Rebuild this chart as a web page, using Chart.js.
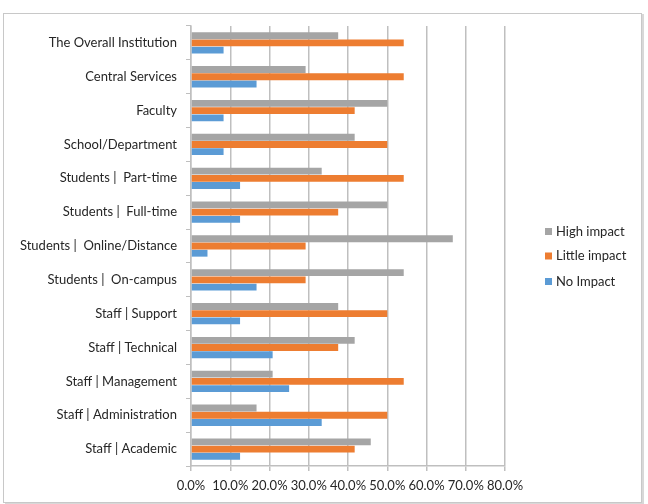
<!DOCTYPE html>
<html>
<head>
<meta charset="utf-8">
<script src="https://cdn.jsdelivr.net/npm/chart.js@4/dist/chart.umd.min.js"></script>
<style>
  html, body { margin: 0; padding: 0; background: #ffffff; }
  #wrap { position: relative; width: 648px; height: 504px; }
  #frame { position: absolute; left: 3px; top: 13px; width: 637px; height: 488px;
           border: 1px solid #c8c8c8; box-shadow: 2px 1px 0 #d8d8d8; }
  canvas { position: absolute; left: 0; top: 0; }
</style>
</head>
<body>
<div id="wrap">
  <div id="frame"></div>
  <canvas id="c" width="648" height="504"></canvas>
</div>
<script>
const categories = [
  "The Overall Institution",
  "Central Services",
  "Faculty",
  "School/Department",
  "Students |  Part-time",
  "Students |  Full-time",
  "Students |  Online/Distance",
  "Students |  On-campus",
  "Staff | Support",
  "Staff | Technical",
  "Staff | Management",
  "Staff | Administration",
  "Staff | Academic"
];
const highImpact   = [37.5, 29.2, 50.0, 41.7, 33.3, 50.0, 66.7, 54.2, 37.5, 41.7, 20.8, 16.7, 45.8];
const littleImpact = [54.2, 54.2, 41.7, 50.0, 54.2, 37.5, 29.2, 29.2, 50.0, 37.5, 54.2, 50.0, 41.7];
const noImpact     = [8.3, 16.7, 8.3, 8.3, 12.5, 12.5, 4.2, 16.7, 12.5, 20.8, 25.0, 33.3, 12.5];
const seriesNames  = ["High impact", "Little impact", "No Impact"];
const xTicks = [0, 10, 20, 30, 40, 50, 60, 70, 80];

const FONT = "Lato, 'Open Sans', sans-serif";
const gridColor = '#bfbfbf';

const legendPlugin = {
  id: 'sideLegend',
  afterDraw(chart) {
    const ctx = chart.ctx;
    ctx.save();
    ctx.font = '13px ' + FONT;
    ctx.textBaseline = 'middle';
    ctx.textAlign = 'left';
    const ys = [231.5, 256, 281.5];
    chart.data.datasets.forEach((ds, i) => {
      ctx.fillStyle = ds.backgroundColor;
      ctx.fillRect(545, ys[i] - 3.5, 7, 7);
      ctx.fillStyle = '#262626';
      ctx.fillText(ds.label, 556, ys[i]);
    });
    ctx.restore();
  }
};

new Chart(document.getElementById('c'), {
  type: 'bar',
  data: {
    labels: categories,
    datasets: [
      { label: seriesNames[0], data: highImpact,   backgroundColor: '#a5a5a5' },
      { label: seriesNames[1], data: littleImpact, backgroundColor: '#ed7d31' },
      { label: seriesNames[2], data: noImpact,     backgroundColor: '#5b9bd5' }
    ]
  },
  options: {
    indexAxis: 'y',
    responsive: false,
    animation: false,
    devicePixelRatio: 1,
    categoryPercentage: 0.64,
    barPercentage: 0.95,
    layout: { padding: { top: 26, right: 143, left: 0, bottom: 0 } },
    plugins: {
      legend: { display: false },
      tooltip: { enabled: false }
    },
    scales: {
      x: {
        min: 0, max: 80,
        afterFit(s) { s.height = 38; },
        afterBuildTicks(s) { s.ticks = xTicks.map(v => ({ value: v })); },
        ticks: {
          color: '#262626',
          font: { family: FONT, size: 13 },
          padding: 7,
          maxRotation: 0,
          callback: v => Number(v).toFixed(1) + '%'
        },
        grid: { color: gridColor, lineWidth: 1.5, tickLength: 5, drawTicks: true },
        border: { color: gridColor, width: 1.5 }
      },
      y: {
        afterFit(s) { s.width = 191; },
        ticks: {
          color: '#262626',
          font: { family: FONT, size: 13 },
          padding: 9,
          autoSkip: false
        },
        grid: { display: true, drawOnChartArea: false, drawTicks: true, tickLength: 5,
                offset: true, color: gridColor, lineWidth: 1 },
        border: { color: gridColor, width: 1.5 }
      }
    }
  },
  plugins: [legendPlugin]
});
</script>
</body>
</html>
